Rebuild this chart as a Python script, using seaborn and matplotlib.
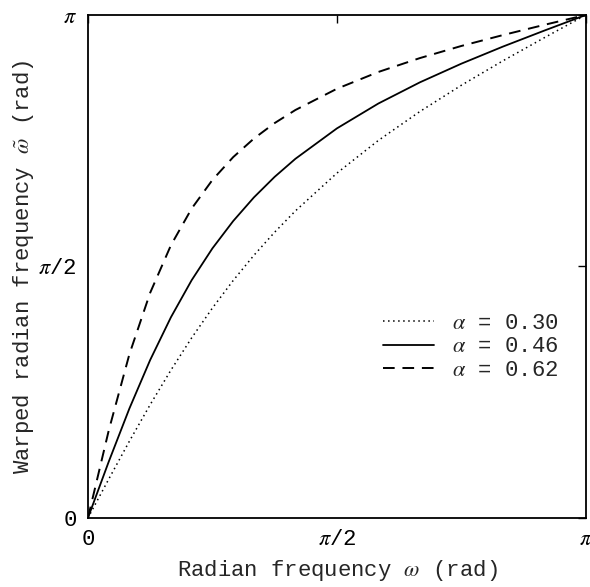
import matplotlib
matplotlib.use("Agg")
import matplotlib.pyplot as plt
import seaborn as sns

# radian frequency, in units of pi
omega = [0, 0.0417, 0.0833, 0.125, 0.1667, 0.2083, 0.25, 0.2917, 0.3333,
         0.375, 0.4167, 0.5, 0.5833, 0.6667, 0.75, 0.8333, 0.9167, 1.0]

# warped frequency, in units of pi
warp_030 = [0, 0.0771, 0.1527, 0.2253, 0.2940, 0.3581, 0.4174, 0.4721, 0.5222,
            0.5682, 0.6105, 0.6856, 0.7506, 0.8081, 0.8603, 0.9088, 0.9549, 1.0]
warp_046 = [0, 0.1117, 0.2177, 0.3141, 0.3991, 0.4727, 0.5360, 0.5903, 0.6373,
            0.6782, 0.7141, 0.7745, 0.8240, 0.8661, 0.9032, 0.9371, 0.9690, 1.0]
warp_062 = [0, 0.1735, 0.3256, 0.4477, 0.5422, 0.6151, 0.6720, 0.7174, 0.7543,
            0.7851, 0.8111, 0.8533, 0.8867, 0.9143, 0.9384, 0.9600, 0.9804, 1.0]

labels = [r"$\alpha$ = 0.30", r"$\alpha$ = 0.46", r"$\alpha$ = 0.62"]
tick_pos = [0, 0.5, 1.0]
tick_labels = ["0", r"$\pi$/2", r"$\pi$"]

sns.set_style("white")
plt.rcParams['font.family'] = ['Liberation Mono', 'DejaVu Sans Mono']
plt.rcParams['mathtext.fontset'] = 'stix'

fig = plt.figure(figsize=(5.9, 5.87), dpi=100)
ax = fig.add_axes([0.149, 0.1175, 0.844, 0.857])

# 曲线
sns.lineplot(x=omega, y=warp_030, ax=ax, color="black", lw=1.1,
             linestyle=(0, (1, 2.3)), label=labels[0])
sns.lineplot(x=omega, y=warp_046, ax=ax, color="black", lw=1.3,
             linestyle="-", label=labels[1])
sns.lineplot(x=omega, y=warp_062, ax=ax, color="black", lw=1.4,
             linestyle=(0, (6, 4)), label=labels[2])

ax.set_xlim(0, 1)
ax.set_ylim(0, 1)
ax.set_xticks(tick_pos)
ax.set_xticklabels(tick_labels)
ax.set_yticks(tick_pos)
ax.set_yticklabels(tick_labels)
ax.tick_params(direction="in", length=6, width=1, top=True, right=True,
               labelsize=16, pad=8, colors="black")
for s in ax.spines.values():
    s.set_color("black")
    s.set_linewidth(1.3)

ax.set_xlabel(r"Radian frequency $\omega$ (rad)", fontsize=16, labelpad=6)
ax.set_ylabel(r"Warped radian frequency $\tilde{\omega}$ (rad)", fontsize=16, labelpad=2)

ax.legend(loc="upper left", bbox_to_anchor=(0.575, 0.425), frameon=False,
          fontsize=16, handlelength=2.3, labelspacing=0.1, handletextpad=0.8,
          borderaxespad=0)

fig.savefig("out.png", dpi=100)
